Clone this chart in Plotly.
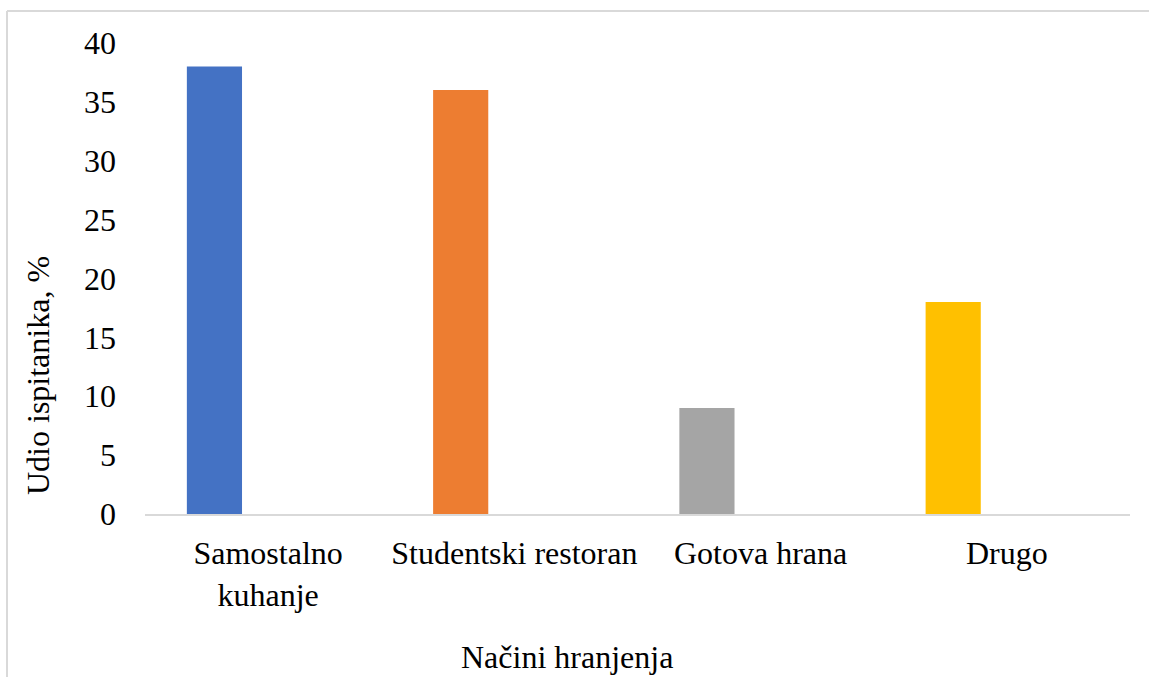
import plotly.graph_objects as go

categories = ["Samostalno<br>kuhanje", "Studentski restoran", "Gotova hrana", "Drugo"]
values = [38, 36, 9, 18]
colors = ["#4472C4", "#ED7D31", "#A5A5A5", "#FFC000"]
y_ticks = [0, 5, 10, 15, 20, 25, 30, 35, 40]

FONT = "Liberation Serif, Times New Roman, serif"

# plot-area geometry in page pixels
L, T, PW, PH = 145, 43, 985, 471
W, H = 1149, 677


def px_x(x):
    return (x - L) / PW


def px_y(y):
    return (T + PH - y) / PH


fig = go.Figure()

# Excel-style clustered bar: bar sits in the left half of each category slot
fig.add_trace(
    go.Bar(
        x=categories,
        y=values,
        marker=dict(color=colors, line=dict(width=0)),
        width=0.224,
        offset=-0.33,
        showlegend=False,
    )
)

fig.update_layout(
    width=W,
    height=H,
    margin=dict(l=L, r=W - L - PW, t=T, b=H - T - PH),
    plot_bgcolor="white",
    paper_bgcolor="white",
    font=dict(family=FONT, size=32, color="black"),
    xaxis=dict(
        showgrid=False,
        showline=True,
        linecolor="#d9d9d9",
        linewidth=1.5,
        ticks="",
        tickfont=dict(size=32),
        ticklabelstandoff=10,
        range=[-0.5, 3.5],
    ),
    yaxis=dict(
        range=[0, 40],
        tickvals=y_ticks,
        showgrid=False,
        zeroline=False,
        showline=False,
        ticks="",
        tickfont=dict(size=32),
        ticklabelstandoff=28,
    ),
    annotations=[
        dict(
            text="Udio ispitanika, %",
            textangle=-90,
            xref="paper", yref="paper",
            x=px_x(38), y=px_y(376),
            xanchor="center", yanchor="middle",
            showarrow=False,
            font=dict(size=32),
        ),
        dict(
            text="Načini hranjenja",
            xref="paper", yref="paper",
            x=px_x(567), y=px_y(657),
            xanchor="center", yanchor="middle",
            showarrow=False,
            font=dict(size=32),
        ),
    ],
    shapes=[
        # chart area border (top and left edges visible)
        dict(type="line", xref="paper", yref="paper",
             x0=px_x(7), x1=px_x(W),
             y0=px_y(11), y1=px_y(11),
             line=dict(color="#d9d9d9", width=2)),
        dict(type="line", xref="paper", yref="paper",
             x0=px_x(7), x1=px_x(7),
             y0=px_y(11), y1=px_y(H),
             line=dict(color="#d9d9d9", width=2)),
    ],
)

# drop the default 8px page margin so the figure fills the window
fig.write_html(
    "out.html",
    config=dict(displayModeBar=False),
    post_script="document.body.style.margin='0';document.body.style.overflow='hidden';",
)
